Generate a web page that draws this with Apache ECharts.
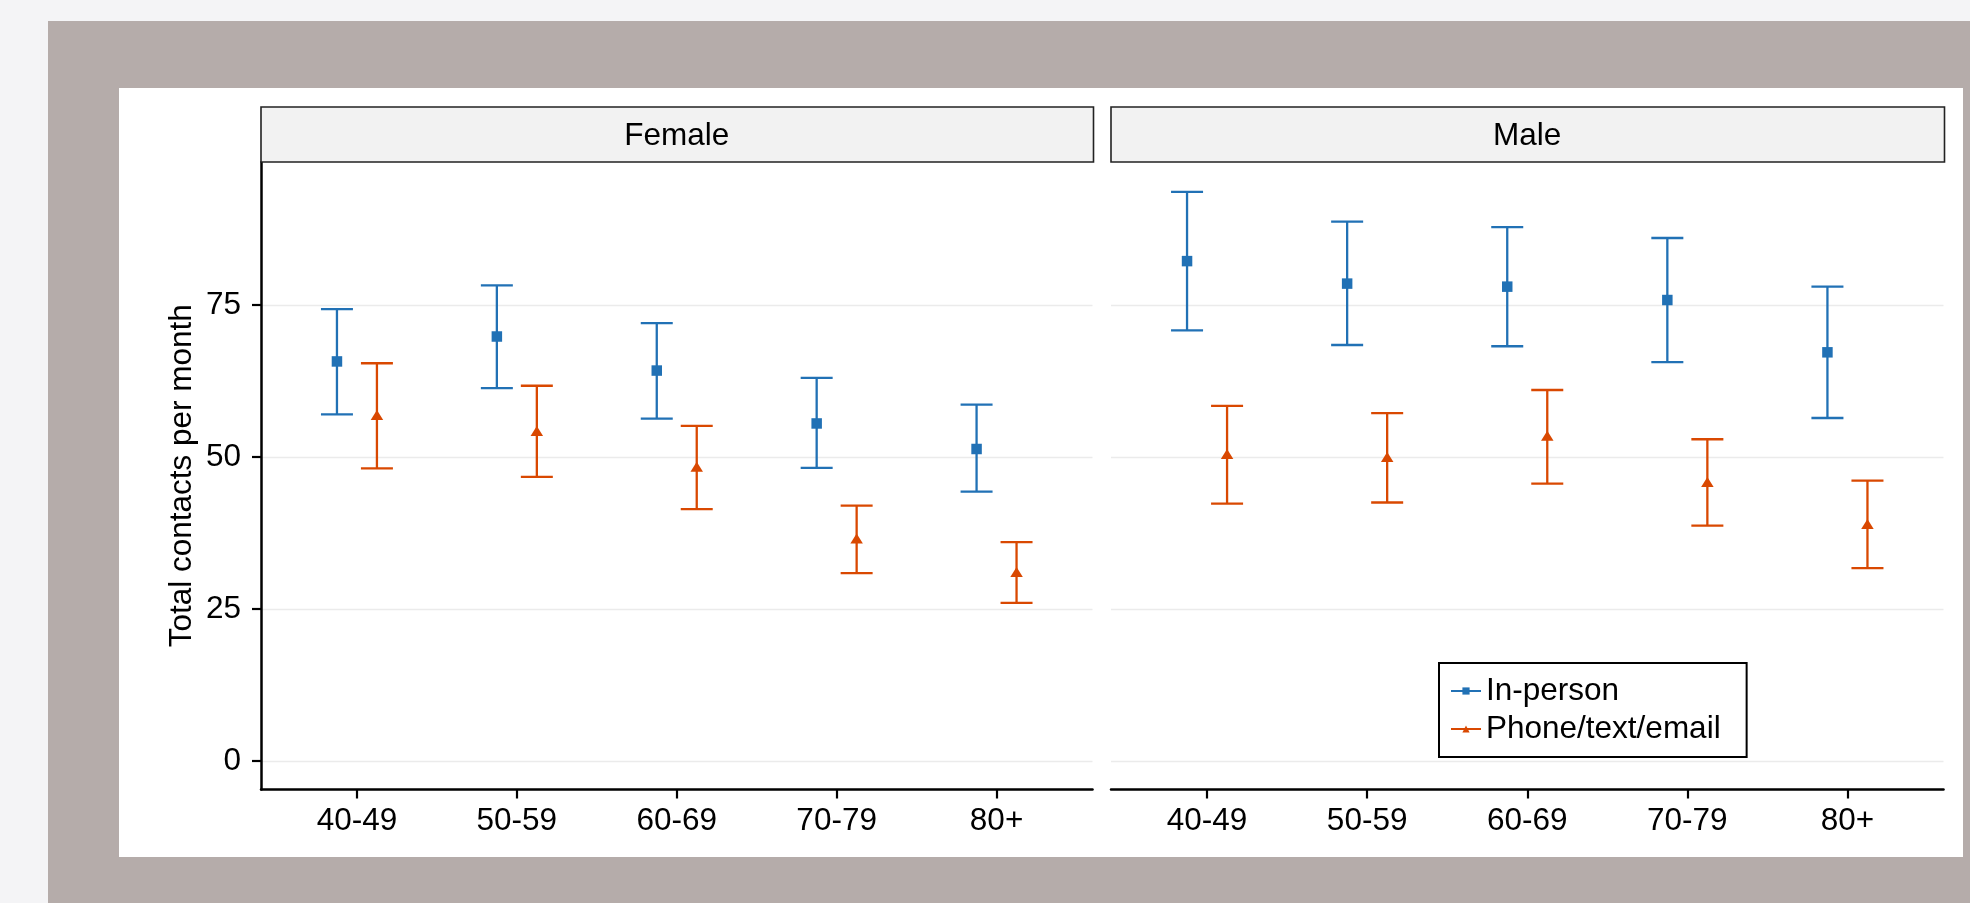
<!DOCTYPE html>
<html>
<head>
<meta charset="utf-8">
<title>Total contacts per month by age group and sex</title>
<script src="https://cdn.jsdelivr.net/npm/echarts@6/dist/echarts.min.js"></script>
<style>
  html, body { margin: 0; padding: 0; background: #f4f4f6; }
  #chart { width: 1970px; height: 903px; }
</style>
</head>
<body>
<div id="chart"></div>
<script>
// ---- data ----
const ageGroups = ['40-49', '50-59', '60-69', '70-79', '80+'];
const panels = ['Female', 'Male'];
const modes = ['In-person', 'Phone/text/email'];
const yTicks = [0, 25, 50, 75];

// mean and 95% interval, per age group
const femaleInPersonMean = [65.7, 69.8, 64.2, 55.5, 51.3];
const femaleInPersonLow  = [57.0, 61.3, 56.3, 48.2, 44.3];
const femaleInPersonHigh = [74.3, 78.2, 72.0, 63.0, 58.6];

const femalePhoneMean = [56.6, 54.0, 48.1, 36.3, 30.8];
const femalePhoneLow  = [48.1, 46.7, 41.4, 30.9, 26.0];
const femalePhoneHigh = [65.4, 61.7, 55.1, 42.0, 36.0];

const maleInPersonMean = [82.2, 78.5, 78.0, 75.8, 67.2];
const maleInPersonLow  = [70.8, 68.4, 68.2, 65.6, 56.4];
const maleInPersonHigh = [93.6, 88.7, 87.8, 86.0, 78.0];

const malePhoneMean = [50.2, 49.7, 53.2, 45.6, 38.7];
const malePhoneLow  = [42.3, 42.5, 45.6, 38.7, 31.7];
const malePhoneHigh = [58.4, 57.2, 61.0, 52.9, 46.1];

// ---- styling ----
const FONT = '"Liberation Sans", Arial, Helvetica, sans-serif';
const FS = 31.5;
const modeColors = ['#2171b5', '#d94801'];
const dodge = [-0.125, 0.125];
const capWidth = 0.2;
const yMin = -4.7, yMax = 98.5;

const panelData = [
  [
    { mean: femaleInPersonMean, low: femaleInPersonLow, high: femaleInPersonHigh },
    { mean: femalePhoneMean, low: femalePhoneLow, high: femalePhoneHigh }
  ],
  [
    { mean: maleInPersonMean, low: maleInPersonLow, high: maleInPersonHigh },
    { mean: malePhoneMean, low: malePhoneLow, high: malePhoneHigh }
  ]
];

const gridBoxes = [
  { left: 261, top: 162, width: 831.5, height: 627.5 },
  { left: 1111, top: 162, width: 832.5, height: 627.5 }
];

const chart = echarts.init(document.getElementById('chart'), null, { renderer: 'canvas' });

const xAxes = gridBoxes.map((g, i) => ({
  gridIndex: i,
  type: 'value',
  min: 0.4,
  max: 5.6,
  axisLine: { show: true, onZero: false, lineStyle: { color: '#000', width: 2.5 } },
  axisTick: {
    show: true, customValues: ageGroups.map((_, k) => k + 1),
    length: 9, lineStyle: { color: '#000', width: 2.2 }
  },
  axisLabel: {
    customValues: ageGroups.map((_, k) => k + 1),
    formatter: v => ageGroups[Math.round(v) - 1] || '',
    margin: 16, fontSize: FS, color: '#000', fontFamily: FONT
  },
  splitLine: { show: false }
}));

const yAxes = gridBoxes.map((g, i) => ({
  gridIndex: i,
  type: 'value',
  min: yMin,
  max: yMax,
  axisLine: { show: i === 0, onZero: false, lineStyle: { color: '#000', width: 2.5 } },
  axisTick: {
    show: i === 0, customValues: yTicks,
    length: 9, lineStyle: { color: '#000', width: 2.2 }
  },
  axisLabel: {
    show: i === 0, customValues: yTicks,
    margin: 20, fontSize: FS, color: '#000', fontFamily: FONT
  },
  splitLine: { show: true, lineStyle: { color: '#ebebeb', width: 1.3 } },
  name: i === 0 ? 'Total contacts per month' : '',
  nameLocation: 'middle',
  nameGap: 63,
  nameTextStyle: { fontSize: FS, color: '#000', fontFamily: FONT }
}));

const series = [];
panelData.forEach((modesData, gi) => {
  modesData.forEach((d, mi) => {
    const color = modeColors[mi];
    // interval whiskers with caps
    series.push({
      type: 'custom',
      name: modes[mi] + ' interval',
      xAxisIndex: gi,
      yAxisIndex: gi,
      z: 2,
      silent: true,
      data: ageGroups.map((_, k) => [k + 1 + dodge[mi], d.low[k], d.high[k]]),
      encode: { x: 0, y: [1, 2] },
      renderItem: (params, api) => {
        const x = api.value(0);
        const pLo = api.coord([x, api.value(1)]);
        const pHi = api.coord([x, api.value(2)]);
        const half = api.size([capWidth / 2, 0])[0];
        const style = { stroke: color, lineWidth: 2.3, fill: null };
        return {
          type: 'group',
          children: [
            { type: 'line', shape: { x1: pLo[0], y1: pLo[1], x2: pHi[0], y2: pHi[1] }, style },
            { type: 'line', shape: { x1: pHi[0] - half, y1: pHi[1], x2: pHi[0] + half, y2: pHi[1] }, style },
            { type: 'line', shape: { x1: pLo[0] - half, y1: pLo[1], x2: pLo[0] + half, y2: pLo[1] }, style }
          ]
        };
      }
    });
    // mean markers
    series.push({
      type: 'line',
      name: modes[mi],
      xAxisIndex: gi,
      yAxisIndex: gi,
      z: 3,
      data: ageGroups.map((_, k) => [k + 1 + dodge[mi], d.mean[k]]),
      symbol: mi === 0 ? 'rect' : 'triangle',
      symbolSize: mi === 0 ? 10.5 : [12.5, 10],
      symbolOffset: mi === 0 ? [0, 0] : [0, -1.7],
      showSymbol: true,
      itemStyle: { color: color },
      lineStyle: { opacity: 0, color: color },
      emphasis: { disabled: true }
    });
  });
});

// background frame, panel and facet strips
const graphics = [
  { type: 'rect', z: -20, silent: true, shape: { x: 48, y: 21, width: 1930, height: 890 }, style: { fill: '#b5acaa' } },
  { type: 'rect', z: -19, silent: true, shape: { x: 119, y: 88, width: 1844, height: 769 }, style: { fill: '#ffffff' } }
];
panels.forEach((p, i) => {
  const g = gridBoxes[i];
  graphics.push({
    type: 'rect', z: 10, silent: true,
    shape: { x: g.left, y: 107, width: g.width + 1, height: 55 },
    style: { fill: '#f2f2f2', stroke: '#222', lineWidth: 1.6 }
  });
  graphics.push({
    type: 'text', z: 11, silent: true,
    x: g.left + g.width / 2, y: 136.5,
    style: { text: p, fill: '#000', font: `${FS}px ${FONT}`, align: 'center', verticalAlign: 'middle' }
  });
});

chart.setOption({
  animation: false,
  backgroundColor: '#f4f4f6',
  grid: gridBoxes.map(g => ({ left: g.left, top: g.top, width: g.width, height: g.height, containLabel: false })),
  xAxis: xAxes,
  yAxis: yAxes,
  legend: {
    data: modes,
    orient: 'vertical',
    left: 1439,
    top: 663,
    itemWidth: 30,
    itemHeight: 9,
    itemGap: 6,
    padding: [12, 26, 12, 11],
    borderColor: '#000',
    borderWidth: 2,
    backgroundColor: '#fff',
    selectedMode: false,
    lineStyle: { opacity: 1, width: 2 },
    textStyle: { fontSize: FS, color: '#000', fontFamily: FONT }
  },
  graphic: graphics,
  series: series
});
</script>
</body>
</html>
